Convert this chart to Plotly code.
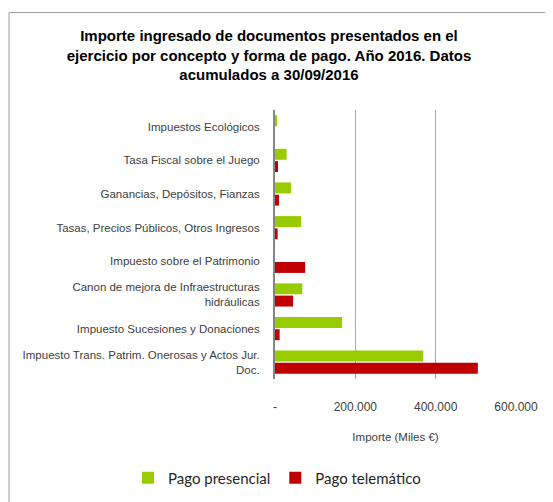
"""
Horizontal grouped bar chart: amount collected from filed documents by
tax concept and payment channel (2016, cumulative to 30/09/2016).
"""

import plotly.graph_objects as go

CONCEPTS = [
    "Impuestos Ecológicos",
    "Tasa Fiscal sobre el Juego",
    "Ganancias, Depósitos, Fianzas",
    "Tasas, Precios Públicos, Otros Ingresos",
    "Impuesto sobre el Patrimonio",
    "Canon de mejora de Infraestructuras<br>hidráulicas",
    "Impuesto Sucesiones y Donaciones",
    "Impuesto Trans. Patrim. Onerosas y Actos Jur.<br>Doc.",
]

# thousands of euros
PAGO_PRESENCIAL = [4000, 29000, 40000, 65000, 0, 68000, 167000, 369000]
PAGO_TELEMATICO = [0, 7500, 10000, 6500, 75000, 45000, 11500, 505000]

TICK_VALUES = [0, 200000, 400000, 600000]
TICK_LABELS = ["-", "200.000", "400.000", "600.000"]

GREEN = "#99cc00"
RED = "#c00000"
TEXT_COLOR = "#404040"
LABEL_FONT = "Liberation Sans, Arial, sans-serif"

# The page body adds an 8px margin, so the figure is laid out in
# "screen" pixels and shifted back by that offset.
PAGE_OFFSET = 8
WIDTH, HEIGHT = 553 - PAGE_OFFSET, 502 - PAGE_OFFSET

# plot-area placement in screen pixels
PLOT_LEFT, PLOT_RIGHT = 275, 516
PLOT_TOP, PLOT_BOTTOM = 110, 379


def px_to_paper_x(px):
    return (px - PLOT_LEFT) / (PLOT_RIGHT - PLOT_LEFT)


def px_to_paper_y(py):
    return (PLOT_BOTTOM - py) / (PLOT_BOTTOM - PLOT_TOP)


def px_to_container_x(px):
    return (px - PAGE_OFFSET) / WIDTH


def px_to_container_y(py):
    return 1 - (py - PAGE_OFFSET) / HEIGHT


fig = go.Figure()
fig.add_trace(go.Bar(
    y=CONCEPTS, x=PAGO_PRESENCIAL, orientation="h", name="Pago presencial",
    marker_color=GREEN, marker_line_width=0,
))
fig.add_trace(go.Bar(
    y=CONCEPTS, x=PAGO_TELEMATICO, orientation="h", name="Pago telemático",
    marker_color=RED, marker_line_width=0,
))

# outer chart frame (runs off the right and bottom edges like the source)
fig.add_shape(
    type="rect", xref="paper", yref="paper",
    x0=px_to_paper_x(9), x1=px_to_paper_x(570),
    y0=px_to_paper_y(520), y1=px_to_paper_y(12.5),
    line=dict(color="#a0a0a0", width=1), fillcolor="rgba(0,0,0,0)",
    layer="below",
)

fig.update_layout(
    width=WIDTH,
    height=HEIGHT,
    margin=dict(
        l=PLOT_LEFT - PAGE_OFFSET,
        r=WIDTH - (PLOT_RIGHT - PAGE_OFFSET),
        t=PLOT_TOP - PAGE_OFFSET,
        b=HEIGHT - (PLOT_BOTTOM - PAGE_OFFSET),
        pad=0,
        autoexpand=False,
    ),
    paper_bgcolor="white",
    plot_bgcolor="white",
    barmode="group",
    bargap=0.27,
    bargroupgap=0.11,
    title=dict(
        text="Importe ingresado de documentos presentados en el<br>"
             "ejercicio por concepto y forma de pago. Año 2016. Datos<br>"
             "acumulados a 30/09/2016",
        font=dict(family=LABEL_FONT, size=15, color="black", weight="bold"),
        x=px_to_container_x(269), xref="container", xanchor="center",
        y=px_to_container_y(41), yref="container", yanchor="top",
        automargin=False,
    ),
    xaxis=dict(
        range=[0, 600000],
        tickvals=TICK_VALUES,
        ticktext=TICK_LABELS,
        showgrid=True,
        gridcolor="#a6a6a6",
        gridwidth=1,
        zeroline=False,
        showline=False,
        ticks="",
        ticklabelstandoff=19,
        tickfont=dict(family=LABEL_FONT, size=12, color=TEXT_COLOR),
        title=dict(
            text="Importe (Miles €)",
            font=dict(family=LABEL_FONT, size=11.5, color=TEXT_COLOR),
            standoff=19,
        ),
        automargin=False,
        fixedrange=True,
    ),
    yaxis=dict(
        categoryorder="array",
        categoryarray=CONCEPTS,
        autorange="reversed",
        showline=True,
        linecolor="#868686",
        linewidth=2,
        showgrid=False,
        ticks="",
        ticklabelstandoff=11,
        tickfont=dict(family=LABEL_FONT, size=11.5, color=TEXT_COLOR),
        automargin=False,
        fixedrange=True,
    ),
    legend=dict(
        orientation="h",
        x=px_to_paper_x(128), xanchor="left",
        y=px_to_paper_y(478), yanchor="middle",
        font=dict(family="Lato, sans-serif", size=15, color="#262626"),
        itemwidth=30,
        traceorder="normal",
    ),
    showlegend=True,
)

fig.write_html("out.html")
